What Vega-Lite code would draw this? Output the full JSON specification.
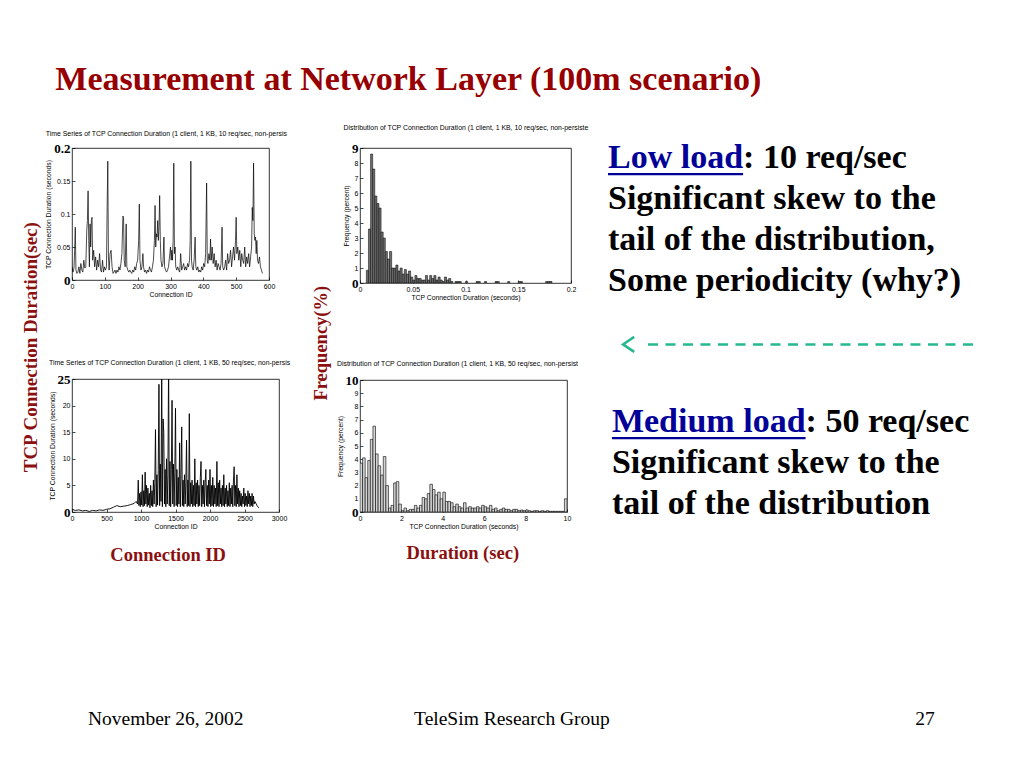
{
  "$schema": "https://vega.github.io/schema/vega-lite/v6.json",
  "background": "white",
  "padding": {"left": 22, "top": 62, "right": 5, "bottom": 5},
  "title": {"text": "Measurement at Network Layer (100m scenario)", "anchor": "start", "frame": "bounds", "dx": 33, "offset": 27, "font": "Liberation Serif", "fontSize": 34, "fontWeight": "bold", "color": "#960000"},
  "config": {
    "view": {"stroke": "black", "strokeWidth": 0.8},
    "axis": {"grid": false, "domain": false, "tickColor": "black", "tickSize": -3, "tickWidth": 0.7, "labelPadding": 5, "labelFont": "Liberation Sans", "labelFontSize": 7, "labelColor": "black", "labelFlush": false, "titleFont": "Liberation Sans", "titleFontSize": 6.8, "titleFontWeight": "normal", "titleColor": "black", "titlePadding": 2},
    "axisX": {"labelAngle": 0}
  },
  "datasets": {
    "ts10": [
      {"id":0,"d":0.02},{"id":3,"d":0.012},{"id":6,"d":0.018},{"id":8,"d":0.045},{"id":10,"d":0.08},{"id":12,"d":0.015},{"id":15,"d":0.01},{"id":18,"d":0.012},{"id":21,"d":0.02},{"id":24,"d":0.01},{"id":27,"d":0.025},{"id":30,"d":0.015},{"id":33,"d":0.012},{"id":36,"d":0.03},{"id":39,"d":0.018},{"id":42,"d":0.02},{"id":45,"d":0.075},{"id":47,"d":0.09},{"id":49,"d":0.135},{"id":51,"d":0.06},{"id":53,"d":0.02},{"id":55,"d":0.085},{"id":57,"d":0.05},{"id":59,"d":0.09},{"id":61,"d":0.095},{"id":63,"d":0.03},{"id":66,"d":0.045},{"id":69,"d":0.02},{"id":72,"d":0.035},{"id":75,"d":0.015},{"id":78,"d":0.03},{"id":81,"d":0.02},{"id":84,"d":0.04},{"id":87,"d":0.015},{"id":90,"d":0.012},{"id":93,"d":0.03},{"id":96,"d":0.012},{"id":99,"d":0.02},{"id":102,"d":0.015},{"id":105,"d":0.02},{"id":107,"d":0.11},{"id":109,"d":0.18},{"id":111,"d":0.035},{"id":113,"d":0.015},{"id":116,"d":0.04},{"id":119,"d":0.045},{"id":122,"d":0.02},{"id":125,"d":0.01},{"id":128,"d":0.012},{"id":131,"d":0.015},{"id":134,"d":0.01},{"id":137,"d":0.015},{"id":140,"d":0.012},{"id":143,"d":0.02},{"id":146,"d":0.015},{"id":149,"d":0.025},{"id":152,"d":0.04},{"id":155,"d":0.097},{"id":157,"d":0.095},{"id":159,"d":0.03},{"id":162,"d":0.02},{"id":165,"d":0.085},{"id":167,"d":0.02},{"id":170,"d":0.015},{"id":173,"d":0.012},{"id":176,"d":0.015},{"id":179,"d":0.012},{"id":182,"d":0.01},{"id":185,"d":0.015},{"id":188,"d":0.012},{"id":191,"d":0.02},{"id":194,"d":0.015},{"id":197,"d":0.025},{"id":200,"d":0.03},{"id":203,"d":0.06},{"id":205,"d":0.115},{"id":207,"d":0.03},{"id":210,"d":0.015},{"id":213,"d":0.02},{"id":216,"d":0.04},{"id":218,"d":0.02},{"id":221,"d":0.012},{"id":224,"d":0.015},{"id":227,"d":0.01},{"id":230,"d":0.015},{"id":233,"d":0.012},{"id":236,"d":0.02},{"id":239,"d":0.015},{"id":242,"d":0.012},{"id":245,"d":0.02},{"id":248,"d":0.03},{"id":251,"d":0.06},{"id":253,"d":0.113},{"id":255,"d":0.05},{"id":257,"d":0.07},{"id":259,"d":0.065},{"id":261,"d":0.09},{"id":263,"d":0.06},{"id":265,"d":0.08},{"id":267,"d":0.128},{"id":269,"d":0.06},{"id":271,"d":0.03},{"id":274,"d":0.02},{"id":277,"d":0.025},{"id":280,"d":0.065},{"id":282,"d":0.02},{"id":285,"d":0.015},{"id":288,"d":0.012},{"id":291,"d":0.015},{"id":294,"d":0.02},{"id":297,"d":0.035},{"id":300,"d":0.05},{"id":302,"d":0.03},{"id":304,"d":0.045},{"id":306,"d":0.03},{"id":308,"d":0.06},{"id":310,"d":0.177},{"id":312,"d":0.04},{"id":314,"d":0.05},{"id":316,"d":0.02},{"id":319,"d":0.015},{"id":322,"d":0.02},{"id":325,"d":0.015},{"id":328,"d":0.012},{"id":331,"d":0.04},{"id":334,"d":0.015},{"id":337,"d":0.02},{"id":340,"d":0.025},{"id":343,"d":0.015},{"id":346,"d":0.02},{"id":349,"d":0.015},{"id":352,"d":0.025},{"id":355,"d":0.02},{"id":358,"d":0.03},{"id":360,"d":0.06},{"id":362,"d":0.18},{"id":364,"d":0.03},{"id":366,"d":0.02},{"id":369,"d":0.015},{"id":372,"d":0.03},{"id":375,"d":0.065},{"id":377,"d":0.02},{"id":380,"d":0.015},{"id":383,"d":0.02},{"id":386,"d":0.012},{"id":389,"d":0.015},{"id":392,"d":0.012},{"id":395,"d":0.02},{"id":398,"d":0.015},{"id":401,"d":0.025},{"id":404,"d":0.02},{"id":407,"d":0.04},{"id":410,"d":0.147},{"id":412,"d":0.03},{"id":414,"d":0.025},{"id":417,"d":0.04},{"id":420,"d":0.03},{"id":422,"d":0.062},{"id":424,"d":0.03},{"id":427,"d":0.05},{"id":430,"d":0.025},{"id":433,"d":0.04},{"id":436,"d":0.02},{"id":439,"d":0.03},{"id":442,"d":0.015},{"id":445,"d":0.025},{"id":448,"d":0.02},{"id":451,"d":0.015},{"id":454,"d":0.025},{"id":457,"d":0.08},{"id":459,"d":0.02},{"id":462,"d":0.015},{"id":465,"d":0.02},{"id":468,"d":0.03},{"id":471,"d":0.015},{"id":474,"d":0.04},{"id":477,"d":0.025},{"id":480,"d":0.03},{"id":483,"d":0.045},{"id":486,"d":0.02},{"id":489,"d":0.035},{"id":492,"d":0.05},{"id":495,"d":0.03},{"id":498,"d":0.06},{"id":500,"d":0.095},{"id":502,"d":0.04},{"id":505,"d":0.05},{"id":508,"d":0.03},{"id":511,"d":0.045},{"id":514,"d":0.02},{"id":517,"d":0.04},{"id":520,"d":0.03},{"id":523,"d":0.025},{"id":526,"d":0.05},{"id":529,"d":0.02},{"id":532,"d":0.035},{"id":535,"d":0.025},{"id":538,"d":0.04},{"id":541,"d":0.02},{"id":544,"d":0.035},{"id":547,"d":0.05},{"id":549,"d":0.11},{"id":551,"d":0.09},{"id":553,"d":0.177},{"id":555,"d":0.07},{"id":557,"d":0.06},{"id":559,"d":0.065},{"id":561,"d":0.04},{"id":563,"d":0.06},{"id":565,"d":0.03},{"id":568,"d":0.025},{"id":571,"d":0.035},{"id":574,"d":0.02},{"id":577,"d":0.015},{"id":580,"d":0.01}
    ],
    "ts50": [
      {"id":0,"d":0.5},{"id":50,"d":0.3},{"id":100,"d":0.4},{"id":150,"d":0.2},{"id":200,"d":0.3},{"id":250,"d":0.1},{"id":300,"d":0.3},{"id":350,"d":0.2},{"id":400,"d":0.4},{"id":450,"d":0.3},{"id":500,"d":0.5},{"id":550,"d":0.6},{"id":600,"d":0.9},{"id":650,"d":1.2},{"id":700,"d":1.0},{"id":750,"d":1.1},{"id":800,"d":1.2},{"id":850,"d":1.4},{"id":900,"d":1.6},{"id":930,"d":2.0},
      {"id":950,"d":1.5},{"id":960,"d":6.0},{"id":970,"d":1.2},{"id":980,"d":3.5},{"id":990,"d":1.0},{"id":1000,"d":3.8},{"id":1010,"d":1.3},{"id":1020,"d":7.0},{"id":1030,"d":1.0},{"id":1040,"d":4.0},{"id":1050,"d":1.2},{"id":1060,"d":7.5},{"id":1070,"d":1.5},{"id":1080,"d":5.0},{"id":1090,"d":1.0},{"id":1100,"d":4.5},{"id":1110,"d":1.3},{"id":1120,"d":3.5},{"id":1130,"d":0.8},{"id":1140,"d":5.0},{"id":1150,"d":1.2},{"id":1160,"d":4.0},{"id":1170,"d":1.0},{"id":1180,"d":6.0},{"id":1190,"d":1.5},{"id":1200,"d":5.5},{"id":1210,"d":15.5},{"id":1220,"d":1.0},{"id":1230,"d":7.0},{"id":1240,"d":1.3},{"id":1250,"d":8.0},{"id":1260,"d":24.0},{"id":1270,"d":1.2},{"id":1280,"d":9.0},{"id":1290,"d":2.0},{"id":1300,"d":28.0},{"id":1310,"d":1.0},{"id":1320,"d":17.5},{"id":1330,"d":15.0},{"id":1340,"d":1.5},{"id":1350,"d":8.0},{"id":1360,"d":1.0},{"id":1370,"d":10.0},{"id":1380,"d":1.5},{"id":1390,"d":7.0},{"id":1400,"d":28.0},{"id":1410,"d":1.2},{"id":1420,"d":9.5},{"id":1430,"d":1.0},{"id":1440,"d":8.0},{"id":1450,"d":21.0},{"id":1460,"d":1.5},{"id":1470,"d":9.0},{"id":1480,"d":1.0},{"id":1490,"d":7.5},{"id":1500,"d":19.5},{"id":1510,"d":1.2},{"id":1520,"d":8.0},{"id":1530,"d":1.0},{"id":1540,"d":6.5},{"id":1550,"d":1.5},{"id":1560,"d":13.0},{"id":1570,"d":1.0},{"id":1580,"d":7.0},{"id":1590,"d":16.0},{"id":1600,"d":1.2},{"id":1610,"d":6.0},{"id":1620,"d":1.0},{"id":1630,"d":7.0},{"id":1640,"d":1.5},{"id":1650,"d":5.5},{"id":1660,"d":13.5},{"id":1670,"d":1.0},{"id":1680,"d":6.0},{"id":1690,"d":1.2},{"id":1700,"d":18.5},{"id":1710,"d":1.0},{"id":1720,"d":5.5},{"id":1730,"d":1.5},{"id":1740,"d":6.0},{"id":1750,"d":1.0},{"id":1760,"d":5.0},{"id":1770,"d":1.2},{"id":1780,"d":10.0},{"id":1790,"d":1.0},{"id":1800,"d":5.5},{"id":1810,"d":1.5},{"id":1820,"d":6.0},{"id":1830,"d":1.0},{"id":1840,"d":5.0},{"id":1850,"d":1.2},{"id":1860,"d":6.5},{"id":1870,"d":9.5},{"id":1880,"d":1.0},{"id":1890,"d":5.0},{"id":1900,"d":1.5},{"id":1910,"d":6.0},{"id":1920,"d":1.0},{"id":1930,"d":5.5},{"id":1940,"d":8.0},{"id":1950,"d":1.2},{"id":1960,"d":5.0},{"id":1970,"d":1.0},{"id":1980,"d":6.0},{"id":1990,"d":1.5},{"id":2000,"d":8.0},{"id":2010,"d":1.0},{"id":2020,"d":5.0},{"id":2030,"d":1.2},{"id":2040,"d":6.5},{"id":2050,"d":1.0},{"id":2060,"d":5.0},{"id":2070,"d":1.5},{"id":2080,"d":4.5},{"id":2090,"d":1.0},{"id":2100,"d":9.5},{"id":2110,"d":1.2},{"id":2120,"d":5.5},{"id":2130,"d":1.0},{"id":2140,"d":6.0},{"id":2150,"d":1.5},{"id":2160,"d":4.5},{"id":2170,"d":1.0},{"id":2180,"d":5.0},{"id":2190,"d":1.2},{"id":2200,"d":7.0},{"id":2210,"d":1.0},{"id":2220,"d":4.5},{"id":2230,"d":1.5},{"id":2240,"d":5.0},{"id":2250,"d":1.0},{"id":2260,"d":4.0},{"id":2270,"d":1.2},{"id":2280,"d":5.5},{"id":2290,"d":1.0},{"id":2300,"d":4.5},{"id":2310,"d":1.5},{"id":2320,"d":5.0},{"id":2330,"d":1.0},{"id":2340,"d":6.0},{"id":2350,"d":8.5},{"id":2360,"d":1.2},{"id":2370,"d":5.0},{"id":2380,"d":1.0},{"id":2390,"d":7.0},{"id":2400,"d":1.5},{"id":2410,"d":4.5},{"id":2420,"d":1.0},{"id":2430,"d":4.0},{"id":2440,"d":1.2},{"id":2450,"d":3.5},{"id":2460,"d":1.0},{"id":2470,"d":3.0},{"id":2480,"d":1.5},{"id":2490,"d":4.5},{"id":2500,"d":1.0},{"id":2510,"d":3.5},{"id":2520,"d":1.2},{"id":2530,"d":3.0},{"id":2540,"d":1.0},{"id":2550,"d":4.0},{"id":2560,"d":1.5},{"id":2570,"d":3.5},{"id":2580,"d":1.0},{"id":2590,"d":3.0},{"id":2600,"d":1.2},{"id":2610,"d":3.5},{"id":2620,"d":1.0},{"id":2630,"d":3.0},{"id":2640,"d":1.5},{"id":2650,"d":2.0},{"id":2670,"d":1.5},{"id":2690,"d":1.0},{"id":2710,"d":0.8}
    ],
    "h10": [
      {"lo":0.006,"hi":0.008,"pct":0.85},{"lo":0.008,"hi":0.010,"pct":3.6},{"lo":0.010,"hi":0.012,"pct":8.6},{"lo":0.012,"hi":0.014,"pct":7.6},{"lo":0.014,"hi":0.016,"pct":5.8},{"lo":0.016,"hi":0.018,"pct":5.3},{"lo":0.018,"hi":0.020,"pct":5.0},{"lo":0.020,"hi":0.022,"pct":3.4},{"lo":0.022,"hi":0.024,"pct":3.0},{"lo":0.024,"hi":0.026,"pct":2.1},{"lo":0.026,"hi":0.028,"pct":1.6},{"lo":0.028,"hi":0.030,"pct":2.1},{"lo":0.030,"hi":0.032,"pct":1.0},{"lo":0.032,"hi":0.034,"pct":1.0},{"lo":0.034,"hi":0.036,"pct":1.2},{"lo":0.036,"hi":0.038,"pct":0.8},{"lo":0.038,"hi":0.040,"pct":1.0},{"lo":0.040,"hi":0.042,"pct":0.6},{"lo":0.042,"hi":0.044,"pct":0.9},{"lo":0.044,"hi":0.046,"pct":0.6},{"lo":0.046,"hi":0.048,"pct":0.8},{"lo":0.048,"hi":0.050,"pct":0.4},{"lo":0.050,"hi":0.052,"pct":0.2},{"lo":0.052,"hi":0.054,"pct":0.5},{"lo":0.054,"hi":0.056,"pct":0.3},{"lo":0.056,"hi":0.058,"pct":0.3},{"lo":0.058,"hi":0.060,"pct":0.2},{"lo":0.060,"hi":0.062,"pct":0.2},{"lo":0.062,"hi":0.064,"pct":0.5},{"lo":0.064,"hi":0.066,"pct":0.2},{"lo":0.066,"hi":0.068,"pct":0.5},{"lo":0.068,"hi":0.070,"pct":0.3},{"lo":0.070,"hi":0.072,"pct":0.5},{"lo":0.072,"hi":0.074,"pct":0.2},{"lo":0.074,"hi":0.076,"pct":0.4},{"lo":0.076,"hi":0.078,"pct":0.2},{"lo":0.078,"hi":0.080,"pct":0.1},{"lo":0.080,"hi":0.082,"pct":0.4},{"lo":0.082,"hi":0.084,"pct":0.2},{"lo":0.084,"hi":0.086,"pct":0.3},{"lo":0.086,"hi":0.088,"pct":0.1},{"lo":0.090,"hi":0.092,"pct":0.1},{"lo":0.092,"hi":0.094,"pct":0.1},{"lo":0.094,"hi":0.096,"pct":0.1},{"lo":0.100,"hi":0.102,"pct":0.1},{"lo":0.110,"hi":0.112,"pct":0.1},{"lo":0.112,"hi":0.114,"pct":0.1},{"lo":0.118,"hi":0.120,"pct":0.1},{"lo":0.128,"hi":0.130,"pct":0.1},{"lo":0.130,"hi":0.132,"pct":0.1},{"lo":0.140,"hi":0.142,"pct":0.1},{"lo":0.150,"hi":0.152,"pct":0.1},{"lo":0.152,"hi":0.154,"pct":0.1},{"lo":0.176,"hi":0.178,"pct":0.1},{"lo":0.178,"hi":0.180,"pct":0.1},{"lo":0.180,"hi":0.182,"pct":0.1}
    ],
    "h50": [
      {"lo":0,"hi":0.125,"pct":3.7},{"lo":0.125,"hi":0.25,"pct":4.1},{"lo":0.25,"hi":0.375,"pct":2.6},{"lo":0.375,"hi":0.5,"pct":3.9},{"lo":0.5,"hi":0.625,"pct":5.5},{"lo":0.625,"hi":0.75,"pct":6.5},{"lo":0.75,"hi":0.875,"pct":4.4},{"lo":0.875,"hi":1,"pct":3.5},{"lo":1,"hi":1.125,"pct":2.8},{"lo":1.125,"hi":1.25,"pct":4.2},{"lo":1.25,"hi":1.375,"pct":2.0},{"lo":1.375,"hi":1.5,"pct":0.3},{"lo":1.5,"hi":1.625,"pct":0.5},{"lo":1.625,"hi":1.75,"pct":2.2},{"lo":1.75,"hi":1.875,"pct":2.3},{"lo":1.875,"hi":2,"pct":0.6},{"lo":2,"hi":2.125,"pct":0.1},{"lo":2.125,"hi":2.25,"pct":0.3},{"lo":2.25,"hi":2.375,"pct":0.1},{"lo":2.375,"hi":2.5,"pct":0.2},{"lo":2.5,"hi":2.625,"pct":0.2},{"lo":2.625,"hi":2.75,"pct":0.5},{"lo":2.75,"hi":2.875,"pct":0.3},{"lo":2.875,"hi":3,"pct":0.5},{"lo":3,"hi":3.125,"pct":1.1},{"lo":3.125,"hi":3.25,"pct":1.0},{"lo":3.25,"hi":3.375,"pct":1.4},{"lo":3.375,"hi":3.5,"pct":2.1},{"lo":3.5,"hi":3.625,"pct":1.7},{"lo":3.625,"hi":3.75,"pct":1.3},{"lo":3.75,"hi":3.875,"pct":1.5},{"lo":3.875,"hi":4,"pct":1.0},{"lo":4,"hi":4.125,"pct":1.5},{"lo":4.125,"hi":4.25,"pct":0.8},{"lo":4.25,"hi":4.375,"pct":0.8},{"lo":4.375,"hi":4.5,"pct":0.7},{"lo":4.5,"hi":4.625,"pct":0.4},{"lo":4.625,"hi":4.75,"pct":0.6},{"lo":4.75,"hi":4.875,"pct":0.4},{"lo":4.875,"hi":5,"pct":0.3},{"lo":5,"hi":5.125,"pct":0.7},{"lo":5.125,"hi":5.25,"pct":0.3},{"lo":5.25,"hi":5.375,"pct":0.4},{"lo":5.375,"hi":5.5,"pct":0.3},{"lo":5.5,"hi":5.625,"pct":0.3},{"lo":5.625,"hi":5.75,"pct":0.4},{"lo":5.75,"hi":5.875,"pct":0.3},{"lo":5.875,"hi":6,"pct":0.5},{"lo":6,"hi":6.125,"pct":0.4},{"lo":6.125,"hi":6.25,"pct":0.3},{"lo":6.25,"hi":6.375,"pct":0.5},{"lo":6.375,"hi":6.5,"pct":0.2},{"lo":6.5,"hi":6.625,"pct":0.3},{"lo":6.625,"hi":6.75,"pct":0.1},{"lo":6.75,"hi":6.875,"pct":0.2},{"lo":6.875,"hi":7,"pct":0.3},{"lo":7,"hi":7.125,"pct":0.2},{"lo":7.125,"hi":7.25,"pct":0.2},{"lo":7.25,"hi":7.375,"pct":0.1},{"lo":7.375,"hi":7.5,"pct":0.2},{"lo":7.5,"hi":7.625,"pct":0.2},{"lo":7.625,"hi":7.75,"pct":0.1},{"lo":7.75,"hi":7.875,"pct":0.15},{"lo":7.875,"hi":8,"pct":0.1},{"lo":8,"hi":8.125,"pct":0.15},{"lo":8.125,"hi":8.25,"pct":0.1},{"lo":8.25,"hi":8.375,"pct":0.05},{"lo":8.375,"hi":8.5,"pct":0.1},{"lo":8.5,"hi":8.625,"pct":0.1},{"lo":8.625,"hi":8.75,"pct":0.05},{"lo":8.75,"hi":8.875,"pct":0.1},{"lo":8.875,"hi":9,"pct":0.05},{"lo":9,"hi":9.125,"pct":0.1},{"lo":9.125,"hi":9.25,"pct":0.05},{"lo":9.25,"hi":9.375,"pct":0.05},{"lo":9.375,"hi":9.5,"pct":0.05},{"lo":9.5,"hi":9.625,"pct":0.05},{"lo":9.625,"hi":9.75,"pct":0.05},{"lo":9.75,"hi":9.875,"pct":0.05},{"lo":9.875,"hi":10,"pct":1.0}
    ],
    "notes": [
      {"block":"low","line":1,"link":"Low load","text":": 10 req/sec"},
      {"block":"low","line":2,"text":"Significant skew to the"},
      {"block":"low","line":3,"text":"tail of the distribution,"},
      {"block":"low","line":4,"text":"Some periodicity (why?)"},
      {"block":"medium","line":1,"link":"Medium load","text":": 50 req/sec"},
      {"block":"medium","line":2,"text":"Significant skew to the"},
      {"block":"medium","line":3,"text":"tail of the distribution"}
    ],
    "footer": [
      {"part":"date","text":"November 26, 2002"},
      {"part":"group","text":"TeleSim Research Group"},
      {"part":"page","text":"27"}
    ]
  },
  "spacing": 144,
  "vconcat": [
    {
      "spacing": 16,
      "hconcat": [
        {
          "spacing": 21,
          "hconcat": [
            {
              "title": {"text": "TCP Connection Duration(sec)", "orient": "left", "anchor": "middle", "offset": 4, "font": "Liberation Serif", "fontSize": 19, "fontWeight": "bold", "color": "#8b1010"},
              "hconcat": [
                {
                  "title": {"text": "Connection ID", "orient": "bottom", "anchor": "middle", "offset": 16, "font": "Liberation Serif", "fontSize": 18.5, "fontWeight": "bold", "color": "#8b1010"},
                  "spacing": 59,
                  "vconcat": [
                    {
                      "width": 197, "height": 132,
                      "title": {"text": "Time Series of TCP Connection Duration (1 client, 1 KB, 10 req/sec, non-persis", "anchor": "start", "frame": "bounds", "offset": 4, "font": "Liberation Sans", "fontSize": 6.9, "fontWeight": "normal", "color": "black"},
                      "data": {"name": "ts10"},
                      "mark": {"type": "line", "color": "black", "strokeWidth": 0.7, "clip": true},
                      "encoding": {
                        "x": {"field": "id", "type": "quantitative", "scale": {"domain": [0, 600], "nice": false}, "axis": {"title": "Connection ID", "values": [0,100,200,300,400,500,600], "format": "d"}},
                        "y": {"field": "d", "type": "quantitative", "scale": {"domain": [0, 0.2], "nice": false}, "axis": {"title": "TCP Connection Duration (seconds)", "values": [0,0.05,0.1,0.15,0.2], "format": "~g",
                          "labelFontSize": {"condition": {"test": "datum.value === 0 || datum.value === 0.2", "value": 13}, "value": 7},
                          "labelFont": {"condition": {"test": "datum.value === 0 || datum.value === 0.2", "value": "Liberation Serif"}, "value": "Liberation Sans"},
                          "labelFontWeight": {"condition": {"test": "datum.value === 0 || datum.value === 0.2", "value": "bold"}, "value": "normal"}}}
                      }
                    },
                    {
                      "width": 207, "height": 133,
                      "title": {"text": "Time Series of TCP Connection Duration (1 client, 1 KB, 50 req/sec, non-persis", "anchor": "start", "frame": "bounds", "offset": 6, "font": "Liberation Sans", "fontSize": 6.9, "fontWeight": "normal", "color": "black"},
                      "data": {"name": "ts50"},
                      "mark": {"type": "line", "color": "black", "strokeWidth": 0.9, "clip": true},
                      "encoding": {
                        "x": {"field": "id", "type": "quantitative", "scale": {"domain": [0, 3000], "nice": false}, "axis": {"title": "Connection ID", "values": [0,500,1000,1500,2000,2500,3000], "format": "d"}},
                        "y": {"field": "d", "type": "quantitative", "scale": {"domain": [0, 25], "nice": false}, "axis": {"title": "TCP Connection Duration (seconds)", "values": [0,5,10,15,20,25], "format": "d",
                          "labelFontSize": {"condition": {"test": "datum.value === 0 || datum.value === 25", "value": 13}, "value": 7},
                          "labelFont": {"condition": {"test": "datum.value === 0 || datum.value === 25", "value": "Liberation Serif"}, "value": "Liberation Sans"},
                          "labelFontWeight": {"condition": {"test": "datum.value === 0 || datum.value === 25", "value": "bold"}, "value": "normal"}}}
                      }
                    }
                  ]
                }
              ]
            },
            {
              "title": {"text": "Frequency(%)", "orient": "left", "anchor": "middle", "offset": 6, "font": "Liberation Serif", "fontSize": 18.5, "fontWeight": "bold", "color": "#8b1010"},
              "hconcat": [
                {
                  "title": {"text": "Duration (sec)", "orient": "bottom", "anchor": "middle", "offset": 14, "font": "Liberation Serif", "fontSize": 18.5, "fontWeight": "bold", "color": "#8b1010"},
                  "spacing": 57,
                  "vconcat": [
                    {
                      "width": 211, "height": 135,
                      "title": {"text": "Distribution of TCP Connection Duration (1 client, 1 KB, 10 req/sec, non-persiste", "anchor": "start", "frame": "bounds", "offset": 10, "font": "Liberation Sans", "fontSize": 6.9, "fontWeight": "normal", "color": "black"},
                      "data": {"name": "h10"},
                      "mark": {"type": "bar", "fill": "#6e6e6e", "stroke": "black", "strokeWidth": 0.5, "clip": true},
                      "encoding": {
                        "x": {"field": "lo", "type": "quantitative", "scale": {"domain": [0, 0.2], "nice": false}, "axis": {"title": "TCP Connection Duration (seconds)", "values": [0,0.05,0.1,0.15,0.2], "format": "~g"}},
                        "x2": {"field": "hi"},
                        "y": {"field": "pct", "type": "quantitative", "scale": {"domain": [0, 9], "nice": false}, "axis": {"title": "Frequency (percent)", "values": [0,1,2,3,4,5,6,7,8,9], "format": "d",
                          "labelFontSize": {"condition": {"test": "datum.value === 0 || datum.value === 9", "value": 13}, "value": 7},
                          "labelFont": {"condition": {"test": "datum.value === 0 || datum.value === 9", "value": "Liberation Serif"}, "value": "Liberation Sans"},
                          "labelFontWeight": {"condition": {"test": "datum.value === 0 || datum.value === 9", "value": "bold"}, "value": "normal"}}},
                        "y2": {"datum": 0}
                      }
                    },
                    {
                      "width": 207, "height": 132,
                      "title": {"text": "Distribution of TCP Connection Duration (1 client, 1 KB, 50 req/sec, non-persist", "anchor": "start", "frame": "bounds", "offset": 6, "font": "Liberation Sans", "fontSize": 6.9, "fontWeight": "normal", "color": "black"},
                      "data": {"name": "h50"},
                      "mark": {"type": "bar", "fill": "#d4d4d4", "stroke": "black", "strokeWidth": 0.6, "clip": true},
                      "encoding": {
                        "x": {"field": "lo", "type": "quantitative", "scale": {"domain": [0, 10], "nice": false}, "axis": {"title": "TCP Connection Duration (seconds)", "values": [0,2,4,6,8,10], "format": "d"}},
                        "x2": {"field": "hi"},
                        "y": {"field": "pct", "type": "quantitative", "scale": {"domain": [0, 10], "nice": false}, "axis": {"title": "Frequency (percent)", "values": [0,1,2,3,4,5,6,7,8,9,10], "format": "d",
                          "labelFontSize": {"condition": {"test": "datum.value === 0 || datum.value === 10", "value": 13}, "value": 7},
                          "labelFont": {"condition": {"test": "datum.value === 0 || datum.value === 10", "value": "Liberation Serif"}, "value": "Liberation Sans"},
                          "labelFontWeight": {"condition": {"test": "datum.value === 0 || datum.value === 10", "value": "bold"}, "value": "normal"}}},
                        "y2": {"datum": 0}
                      }
                    }
                  ]
                }
              ]
            }
          ]
        },
        {
          "width": 392, "height": 410,
          "view": {"stroke": null},
          "data": {"name": "notes"},
          "resolve": {"scale": {"y": "independent"}},
          "layer": [
            {
              "transform": [{"filter": "datum.block === 'low' && !isValid(datum.link)"}],
              "mark": {"type": "text", "align": "left", "baseline": "alphabetic", "font": "Liberation Serif", "fontSize": 34, "fontWeight": "bold", "color": "black"},
              "encoding": {
                "x": {"datum": 0, "type": "quantitative", "scale": {"domain": [0, 100]}, "axis": null},
                "y": {"field": "line", "type": "quantitative", "scale": {"domain": [0.51, 10.51], "reverse": true}, "axis": null},
                "text": {"field": "text"}
              }
            },
            {
              "transform": [{"filter": "datum.block === 'low' && isValid(datum.link)"}],
              "mark": {"type": "text", "align": "left", "baseline": "alphabetic", "font": "Liberation Serif", "fontSize": 34, "fontWeight": "bold", "color": "#000099"},
              "encoding": {
                "x": {"datum": 0, "type": "quantitative"},
                "y": {"field": "line", "type": "quantitative", "scale": {"domain": [0.51, 10.51], "reverse": true}, "axis": null},
                "text": {"field": "link"}
              }
            },
            {
              "transform": [{"filter": "datum.block === 'low' && isValid(datum.link)"}],
              "mark": {"type": "text", "align": "left", "baseline": "alphabetic", "font": "Liberation Serif", "fontSize": 34, "fontWeight": "bold", "color": "black"},
              "encoding": {
                "x": {"datum": 34.46, "type": "quantitative"},
                "y": {"field": "line", "type": "quantitative", "scale": {"domain": [0.51, 10.51], "reverse": true}, "axis": null},
                "text": {"field": "text"}
              }
            },
            {
              "data": {"values": [{"underline": "Low load"}]},
              "mark": {"type": "rule", "color": "#000099", "strokeWidth": 2.2},
              "encoding": {
                "x": {"datum": 0, "type": "quantitative"},
                "x2": {"datum": 34.46},
                "y": {"datum": 1.146, "type": "quantitative", "scale": {"domain": [0.51, 10.51], "reverse": true}, "axis": null}
              }
            },
            {
              "transform": [{"filter": "datum.block === 'medium' && !isValid(datum.link)"}],
              "mark": {"type": "text", "align": "left", "baseline": "alphabetic", "font": "Liberation Serif", "fontSize": 34, "fontWeight": "bold", "color": "black"},
              "encoding": {
                "x": {"datum": 1, "type": "quantitative"},
                "y": {"field": "line", "type": "quantitative", "scale": {"domain": [-5.93, 4.07], "reverse": true}, "axis": null},
                "text": {"field": "text"}
              }
            },
            {
              "transform": [{"filter": "datum.block === 'medium' && isValid(datum.link)"}],
              "mark": {"type": "text", "align": "left", "baseline": "alphabetic", "font": "Liberation Serif", "fontSize": 34, "fontWeight": "bold", "color": "#000099"},
              "encoding": {
                "x": {"datum": 1, "type": "quantitative"},
                "y": {"field": "line", "type": "quantitative", "scale": {"domain": [-5.93, 4.07], "reverse": true}, "axis": null},
                "text": {"field": "link"}
              }
            },
            {
              "transform": [{"filter": "datum.block === 'medium' && isValid(datum.link)"}],
              "mark": {"type": "text", "align": "left", "baseline": "alphabetic", "font": "Liberation Serif", "fontSize": 34, "fontWeight": "bold", "color": "black"},
              "encoding": {
                "x": {"datum": 50.4, "type": "quantitative"},
                "y": {"field": "line", "type": "quantitative", "scale": {"domain": [-5.93, 4.07], "reverse": true}, "axis": null},
                "text": {"field": "text"}
              }
            },
            {
              "data": {"values": [{"underline": "Medium load"}]},
              "mark": {"type": "rule", "color": "#000099", "strokeWidth": 2.2},
              "encoding": {
                "x": {"datum": 1, "type": "quantitative"},
                "x2": {"datum": 50.4},
                "y": {"datum": 1.146, "type": "quantitative", "scale": {"domain": [-5.93, 4.07], "reverse": true}, "axis": null}
              }
            },
            {
              "data": {"values": [{"arrow": "back"}]},
              "mark": {"type": "rule", "color": "#26b88e", "strokeWidth": 2.5, "strokeDash": [10, 7.5]},
              "encoding": {
                "x": {"datum": 10.2, "type": "quantitative"},
                "x2": {"datum": 94.4},
                "y": {"datum": 5.3, "type": "quantitative", "scale": {"domain": [0.51, 10.51], "reverse": true}, "axis": null}
              }
            },
            {
              "data": {"values": [{"arrow": "back"}]},
              "mark": {"type": "point", "shape": "M1,-0.67L0,0L1,0.67", "size": 500, "filled": false, "color": "#26b88e", "strokeWidth": 2.5, "opacity": 1},
              "encoding": {
                "x": {"datum": 3.83, "type": "quantitative"},
                "y": {"datum": 5.3, "type": "quantitative", "scale": {"domain": [0.51, 10.51], "reverse": true}, "axis": null}
              }
            }
          ]
        }
      ]
    },
    {
      "width": 960, "height": 20,
      "view": {"stroke": null},
      "data": {"name": "footer"},
      "layer": [
        {
          "transform": [{"filter": "datum.part === 'date'"}],
          "mark": {"type": "text", "align": "left", "baseline": "alphabetic", "font": "Liberation Serif", "fontSize": 19.5, "color": "black"},
          "encoding": {"x": {"datum": 1.667, "type": "quantitative", "scale": {"domain": [0, 100]}, "axis": null}, "text": {"field": "text"}}
        },
        {
          "transform": [{"filter": "datum.part === 'group'"}],
          "mark": {"type": "text", "align": "center", "baseline": "alphabetic", "font": "Liberation Serif", "fontSize": 19.5, "color": "black"},
          "encoding": {"x": {"datum": 45.83, "type": "quantitative"}, "text": {"field": "text"}}
        },
        {
          "transform": [{"filter": "datum.part === 'page'"}],
          "mark": {"type": "text", "align": "center", "baseline": "alphabetic", "font": "Liberation Serif", "fontSize": 19.5, "color": "black"},
          "encoding": {"x": {"datum": 88.85, "type": "quantitative"}, "text": {"field": "text"}}
        }
      ]
    }
  ]
}
